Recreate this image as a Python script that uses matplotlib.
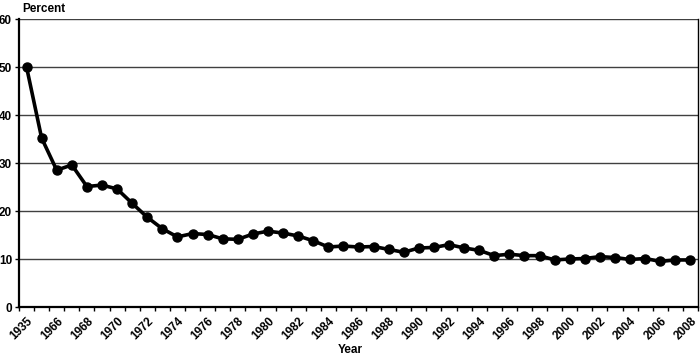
import matplotlib
matplotlib.use("Agg")
import matplotlib.pyplot as plt
import matplotlib.transforms as mtransforms
import numpy as np

years = ["1935"] + [str(y) for y in range(1965, 2009)]
values = [50.0, 35.2, 28.5, 29.6, 25.1, 25.4, 24.6, 21.6, 18.7, 16.3, 14.6,
          15.3, 15.1, 14.2, 14.1, 15.2, 15.8, 15.4, 14.8, 13.8, 12.5,
          12.7, 12.5, 12.6, 12.0, 11.4, 12.3, 12.4, 13.0, 12.3, 11.8,
          10.7, 11.0, 10.7, 10.7, 9.8, 10.0, 10.1, 10.5, 10.3, 9.9,
          10.1, 9.5, 9.8, 9.8]
label_years = [y if i % 2 == 0 else "" for i, y in enumerate(years)]

plt.rcParams['font.family'] = ['Liberation Sans', 'DejaVu Sans']

fig = plt.figure(figsize=(7.0, 3.59), dpi=100)
ax = fig.add_axes([19/700, 1 - 307/359, 679/700, 288/359])

x = np.arange(len(years))
ax.plot(x, values, color="black", lw=2.6, marker="o", ms=6.5, zorder=3)

ax.set_xlim(-0.5, len(years) - 0.5)
ax.set_ylim(0, 60)
ax.set_yticks(range(0, 61, 10))
ax.set_yticklabels([str(v) for v in range(0, 61, 10)], fontsize=8.5, fontweight='bold')
ax.yaxis.grid(True, color="#404040", lw=1)
ax.set_axisbelow(True)

ax.set_xticks(x)
ax.set_xticklabels(label_years, rotation=45, ha='right', va='top',
                   rotation_mode='anchor', fontsize=8.5, fontweight='bold')
offset = mtransforms.ScaledTranslation(4/100, 0, fig.dpi_scale_trans)
for lbl in ax.get_xticklabels():
    lbl.set_transform(lbl.get_transform() + offset)
ax.set_xticks(np.arange(-0.5, len(years), 1), minor=True)
ax.tick_params(axis='x', which='major', length=0, pad=6)
ax.tick_params(axis='x', which='minor', length=3, width=1, direction='out')
ax.tick_params(axis='y', length=3, width=1, pad=2)

for s in ['left', 'bottom']:
    ax.spines[s].set_linewidth(1.6)
ax.spines['right'].set_linewidth(1.0)
ax.spines['top'].set_visible(False)

fig.text(22/700, 1 - 9/359, "Percent", fontsize=8.5, fontweight='bold', va='center', ha='left')
fig.text(350/700, 1 - 350/359, "Year", fontsize=8.5, fontweight='bold', va='center', ha='center')

fig.savefig("out.png", dpi=100)
